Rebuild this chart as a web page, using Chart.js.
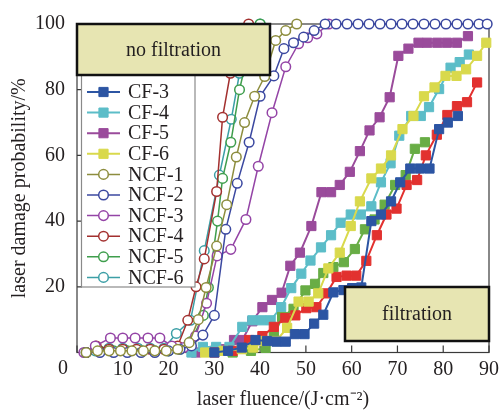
<!DOCTYPE html>
<html><head><meta charset="utf-8">
<script src="https://cdn.jsdelivr.net/npm/chart.js@4/dist/chart.umd.min.js"></script>
<style>html,body{margin:0;padding:0;background:#fff;}#wrap{width:504px;height:412px;position:relative;}</style>
</head><body><div id="wrap"><canvas id="c" width="504" height="412"></canvas></div>
<script>
const xTicks = [0,10,20,30,40,50,60,70,80,90];
const yTicks = [0,20,40,60,80,100];
const seriesNames = ['CF-1','CF-2','CF-3','CF-4','CF-5','CF-6','NCF-1','NCF-2','NCF-3','NCF-4','NCF-5','NCF-6'];

const cf1Fluence = [30,34,37.6,40.5,43,45.5,47.7,50.1,52.3,54.5,56.7,58.9,61,63.2,65.5,67.6,69.8,72,74.3,76.2,78.6,80.9,83,85.2,87.4];
const cf1Prob    = [0,0.5,3.8,5,7.8,10.5,11.3,13.5,13.8,18,23,23.4,23.4,27.9,35.7,42,43.8,51,52.5,60,66.3,72.3,75,76.2,82.2];
const cf2Fluence = [34,38,41.2,43,44.8,47.3,49.9,52,53.8,56,58.3,60.7,62.9,65,67.2,69.5,71.8,73.8,76];
const cf2Prob    = [0,0.5,1.4,5,10.8,13.3,18.9,20.9,24.2,26,27.5,31.5,37.5,40.5,45,51,54,62,64];
const cf3Fluence = [30,33,36,39,41.5,43.6,45.6,47.6,49.7,51.8,53.8,56,58.2,60.1,62.1,64.3,66.4,68.6,70.6,72.8,74.9,77,79.1,81,83.2];
const cf3Prob    = [0,0.5,1.5,3.8,3.5,3.3,3.3,5.6,5.6,8.8,11.5,18.3,19,19.6,19.8,40,42,46,51.8,56,56,56,68,70,72];
const cf4Fluence = [25,27.5,30.4,33.3,36.1,38.3,40.3,42.3,44.6,46.8,49,51,53.3,55.5,57.6,59.8,62,64.3,66.4,68.5,70.4,73,75.1,76.9,79.1,81.6,83.6,85.6];
const cf4Prob    = [0,1.7,1.7,1.7,7.8,9.8,9.8,9.8,13.8,19.6,24,28,32,35.7,39.5,42,42,44.5,51.8,57.6,66,72,72,74.7,80.2,86.7,88.4,90.7];
const cf5Fluence = [26,30,32.3,34.3,36.1,38.3,40.5,42.6,44.7,46.6,48.7,51.2,53.4,55.5,57.4,59.6,61.8,63.9,66.1,68.3,70.2,72.4,74.6,76.5,78.7,80.8,83,85.4];
const cf5Prob    = [0,0.5,1,3.8,3.8,9.5,13.8,16,18.2,26.4,30.4,38.5,48.8,48.8,51,55,61.3,67.6,71.6,77.7,90.3,92.5,94.3,94.3,94.3,94.3,94.3,96.3];
const cf6Fluence = [28,32,36,38.5,41,43.5,45.9,48.4,50.6,52.7,54.9,57.4,59.8,61.8,64.3,66.4,68.6,71.1,73.5,75.8,78.1,80.5,82.9,85,87.4,89.4];
const cf6Prob    = [0,0.5,1,1.5,3.5,3.5,7.5,15.5,15.5,18,25.6,30.4,38.5,46,53,56,60,68,72,78,80.7,84.2,84.2,86.2,90.3,94.3];
const ncf1Fluence = [2,4.5,7,9.5,12,14.5,17,19.5,22,24.5,26.5,28.2,30.5,32.7,34.8,36.6,38.8,41,43.4,45.6,48];
const ncf1Prob    = [0,0.5,0.5,0.5,0.5,0.5,0.5,0.5,1,3,10,19.8,32.4,45,59.5,70,78,84,95,98,100];
const ncf2Fluence = [2,5,8,11,14,17,20,22.5,25,27.5,30,32.5,35,37.6,40,43,45.2,47.3,49.5,51.8,54.2,56.6,59,61.4,63.8,66.2,68.6,71,73.4,75.8,78.2,80.6,83,85.4,87.8,89.6];
const ncf2Prob    = [0,0,0,0,0,0,0.5,1,2,5.3,11.3,37.5,51.5,64,78,84.2,92.5,94.3,96,98,100,100,100,100,100,100,100,100,100,100,100,100,100,100,100,100];
const ncf3Fluence = [1.5,4,7.3,10,12.7,15.5,18.1,20.7,23.3,25.9,28.3,30.6,33.6,36.9,39.6,42.6,45.6,48.4,50.4,52.4,55];
const ncf3Prob    = [0,2,4.4,4.4,4.4,4.4,4.4,2,1.5,5,15,29.4,31.4,40.5,56.7,73,87,94,95.8,97,100];
const ncf4Fluence = [2,4.2,7,10,13,16,19,22,24.2,26,27.8,30.5,31.8,33.5,35.5,37.5];
const ncf4Prob    = [0,2,1,1,1,1,1,2,9.8,20,28.5,49,71.6,85,95,100];
const ncf5Fluence = [2,5,8,11,14,17,20,22.5,24.9,27.6,28.7,30.7,31.8,33.6,35.5,37.5,40];
const ncf5Prob    = [0,0.5,0.5,0.5,0.5,0.5,0.5,1,3.3,11.3,19.8,40,53,64,80,92,100];
const ncf6Fluence = [2,4,7,10,13.3,16,19,21.7,24.8,27.8,31.1,33.7,35.5,37.5,40];
const ncf6Prob    = [0,0.5,1.3,1.3,1.3,1.3,1.3,5.8,9.8,31,54,71,85,95,100];

const fluences = [cf1Fluence,cf2Fluence,cf3Fluence,cf4Fluence,cf5Fluence,cf6Fluence,ncf1Fluence,ncf2Fluence,ncf3Fluence,ncf4Fluence,ncf5Fluence,ncf6Fluence];
const probs = [cf1Prob,cf2Prob,cf3Prob,cf4Prob,cf5Prob,cf6Prob,ncf1Prob,ncf2Prob,ncf3Prob,ncf4Prob,ncf5Prob,ncf6Prob];
const colors = ['#e2312f','#68ad45','#2c55a3','#5cbdc8','#9a4b9b','#d9d94c','#8d8d3e','#3b48a0','#9444a6','#a3302f','#3f9e4d','#3c9fa6'];
const drawOrder = [3,5,1,6,7,2,0,0,0,0,0,0];
const legendShown = [2,3,4,5,6,7,8,9,10,11];

const FONT = '"Liberation Serif","Times New Roman",serif';
const TXT = '#231f20';

const datasets = seriesNames.map((name,i)=>{
  const isCF = i < 6;
  return {
    label: name,
    data: fluences[i].map((v,k)=>({x:v, y:probs[i][k]})),
    showLine: true,
    borderColor: colors[i],
    borderWidth: isCF ? 2 : 1.5,
    pointStyle: isCF ? 'rect' : 'circle',
    pointRadius: isCF ? 6.5 : 4.8,
    pointBorderWidth: isCF ? 1 : 1.5,
    pointBackgroundColor: isCF ? colors[i] : '#ffffff',
    pointBorderColor: colors[i],
    clip: false,
    order: drawOrder[i]
  };
});

function drawMarker(ctx, ds, x, y){
  ctx.fillStyle = ds.pointBackgroundColor;
  ctx.strokeStyle = ds.pointBorderColor;
  ctx.lineWidth = ds.pointBorderWidth;
  if (Chart.helpers && Chart.helpers.drawPoint) {
    Chart.helpers.drawPoint(ctx, {pointStyle: ds.pointStyle, radius: ds.pointRadius, borderWidth: ds.pointBorderWidth, rotation: 0}, x, y);
  } else {
    ctx.beginPath();
    if (ds.pointStyle === 'rect') { const s = ds.pointRadius*Math.SQRT1_2; ctx.rect(x-s,y-s,2*s,2*s); }
    else ctx.arc(x,y,ds.pointRadius,0,Math.PI*2);
    ctx.fill(); ctx.stroke();
  }
}

const overlay = {
  id: 'overlay',
  beforeDatasetsDraw(chart){
    const {ctx, chartArea:a, scales:{x,y}} = chart;
    ctx.save();
    ctx.strokeStyle = '#3a3a3a'; ctx.lineWidth = 1.2;
    ctx.strokeRect(a.left, a.top, a.right-a.left, a.bottom-a.top);
    ctx.beginPath();
    xTicks.forEach(v=>{const px = x.getPixelForValue(v); ctx.moveTo(px,a.bottom); ctx.lineTo(px,a.bottom-7);});
    yTicks.forEach(v=>{const py = y.getPixelForValue(v); ctx.moveTo(a.left,py); ctx.lineTo(a.left+5,py);});
    ctx.stroke();
    ctx.restore();
  },
  afterDraw(chart){
    const {ctx, chartArea:a, scales:{x}} = chart;
    ctx.save();
    // zero label at corner
    ctx.font = '20px ' + FONT; ctx.fillStyle = TXT;
    ctx.textAlign = 'center'; ctx.textBaseline = 'middle';
    ctx.fillText(String(xTicks[0]), x.getPixelForValue(xTicks[0]) - 14, 369);
    // legend
    const lx0 = 81.5, lx1 = 195, ly0 = 40, ly1 = 287;
    ctx.fillStyle = '#fff'; ctx.fillRect(lx0, ly0, lx1-lx0, ly1-ly0);
    ctx.strokeStyle = '#8a8a8a'; ctx.lineWidth = 1.2; ctx.strokeRect(lx0, ly0, lx1-lx0, ly1-ly0);
    legendShown.forEach((idx, r)=>{
      const ds = chart.data.datasets[idx];
      const yy = 92 + r*20.6;
      ctx.strokeStyle = ds.borderColor; ctx.lineWidth = ds.borderWidth;
      ctx.beginPath(); ctx.moveTo(87, yy); ctx.lineTo(120, yy); ctx.stroke();
      drawMarker(ctx, ds, 103.5, yy);
      ctx.fillStyle = TXT; ctx.font = '20px ' + FONT;
      ctx.textAlign = 'left'; ctx.textBaseline = 'middle';
      ctx.fillText(ds.label, 128, yy + 1);
    });
    // annotation boxes
    function box(x0,y0,x1,y1,text){
      ctx.fillStyle = '#e7e5b2'; ctx.fillRect(x0,y0,x1-x0,y1-y0);
      ctx.strokeStyle = '#111'; ctx.lineWidth = 2.5; ctx.strokeRect(x0,y0,x1-x0,y1-y0);
      ctx.fillStyle = TXT; ctx.font = '20px ' + FONT;
      ctx.textAlign = 'center'; ctx.textBaseline = 'middle';
      ctx.fillText(text, (x0+x1)/2, (y0+y1)/2 + 1);
    }
    box(a.left, a.top, 270, 75, 'no filtration');
    box(345, 287, a.right, 341, 'filtration');
    ctx.restore();
  }
};

new Chart(document.getElementById('c'), {
  type: 'scatter',
  data: { datasets },
  options: {
    responsive: false,
    animation: false,
    layout: { padding: { top: 21, right: 12, left: 0, bottom: 0 } },
    plugins: { legend: { display: false }, tooltip: { enabled: false } },
    scales: {
      x: {
        type: 'linear', min: 0, max: 90,
        afterBuildTicks: s => { s.ticks = xTicks.map(v=>({value:v})); },
        afterFit: s => { s.height = 59.5; },
        grid: { display: false, drawTicks: false },
        border: { display: false },
        ticks: { padding: 5, color: TXT, font: { family: FONT, size: 20 }, maxRotation: 0,
          callback: v => v === 0 ? '' : String(v) },
        title: { display: true, text: 'laser fluence/(J·cm⁻²)', color: TXT, font: { family: FONT, size: 20 }, padding: { top: 0, bottom: 0 } }
      },
      y: {
        type: 'linear', min: 0, max: 100,
        afterBuildTicks: s => { s.ticks = yTicks.map(v=>({value:v})); },
        afterFit: s => { s.width = 77; },
        grid: { display: false, drawTicks: false },
        border: { display: false },
        ticks: { padding: 12, color: TXT, font: { family: FONT, size: 20 },
          callback: v => v === 0 ? '' : String(v) },
        title: { display: true, text: 'laser damage probability/%', color: TXT, font: { family: FONT, size: 20 }, padding: { top: 8, bottom: 0 } }
      }
    }
  },
  plugins: [overlay]
});
</script></body></html>
